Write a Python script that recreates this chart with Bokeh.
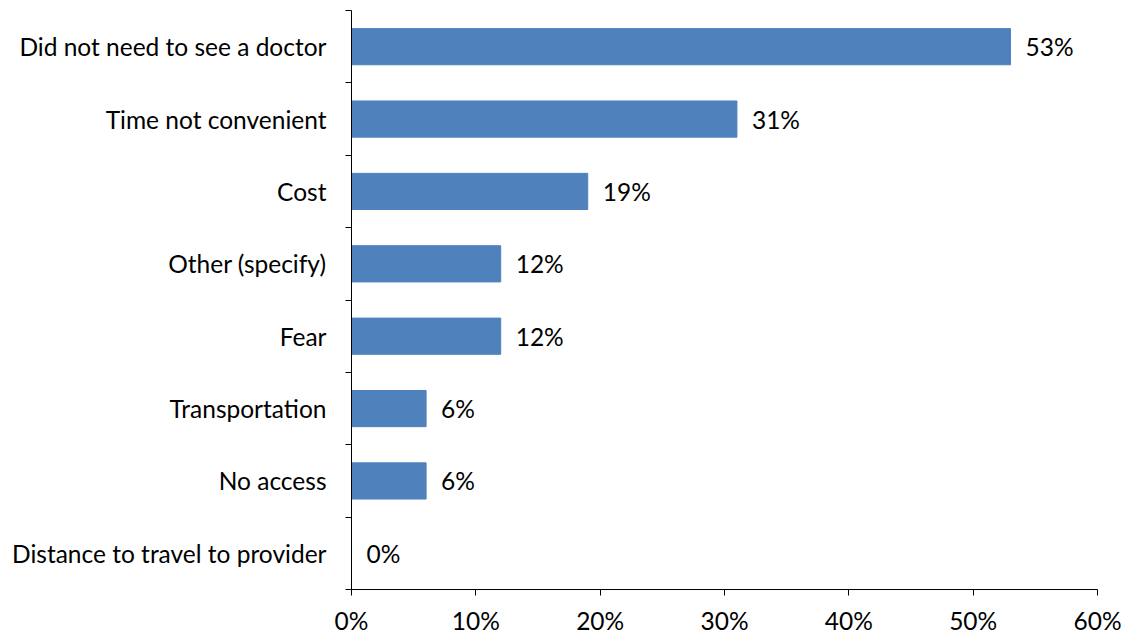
from bokeh.plotting import figure
from bokeh.models import FixedTicker, Range1d, ColumnDataSource
from bokeh.core.properties import value
from bokeh.embed import file_html
from bokeh.resources import INLINE

categories = ["Did not need to see a doctor", "Time not convenient", "Cost", "Other (specify)",
              "Fear", "Transportation", "No access", "Distance to travel to provider"]
values = [53, 31, 19, 12, 12, 6, 6, 0]
x_ticks = [0, 10, 20, 30, 40, 50, 60]
x_tick_labels = ["0%", "10%", "20%", "30%", "40%", "50%", "60%"]

n = len(categories)
ypos = [n - i - 0.5 for i in range(n)]
FONT = "Lato"
FS = "24.5px"

src = ColumnDataSource(dict(y=ypos, v=values, lab=[f"{v}%" for v in values]))

p = figure(width=1123, height=637, output_backend="svg", toolbar_location=None,
           x_range=Range1d(0, 60), y_range=Range1d(0, n),
           min_border_left=351, min_border_right=26, min_border_top=10, min_border_bottom=48)
p.outline_line_color = None
p.xgrid.visible = False
p.ygrid.visible = False

p.hbar(y="y", right="v", left=0, height=0.5, color="#4F81BD", source=src)
p.text(x="v", y="y", text="lab", source=src, x_offset=15, text_align="left", text_baseline="middle",
       text_font=value(FONT), text_font_size=FS, text_color="black")

p.xaxis.ticker = FixedTicker(ticks=x_ticks)
p.xaxis.major_label_overrides = {t: l for t, l in zip(x_ticks, x_tick_labels)}
p.xaxis.major_tick_out = 6
p.xaxis.major_tick_in = 0
p.xaxis.minor_tick_out = 0
p.xaxis.major_label_standoff = 10
p.xaxis.major_label_text_font = FONT
p.xaxis.major_label_text_font_size = FS
p.xaxis.major_label_text_color = "black"
p.xaxis.axis_line_color = "black"
p.xaxis.major_tick_line_color = "black"

p.yaxis.ticker = FixedTicker(ticks=ypos, minor_ticks=list(range(n + 1)))
p.yaxis.major_label_overrides = {y: c for y, c in zip(ypos, categories)}
p.yaxis.major_tick_out = 0
p.yaxis.major_tick_in = 0
p.yaxis.minor_tick_out = 6
p.yaxis.minor_tick_in = 0
p.yaxis.major_label_standoff = 19
p.yaxis.major_label_text_font = FONT
p.yaxis.major_label_text_font_size = FS
p.yaxis.major_label_text_color = "black"
p.yaxis.axis_line_color = "black"
p.yaxis.minor_tick_line_color = "black"

open("out.html", "w").write(file_html(p, INLINE))
